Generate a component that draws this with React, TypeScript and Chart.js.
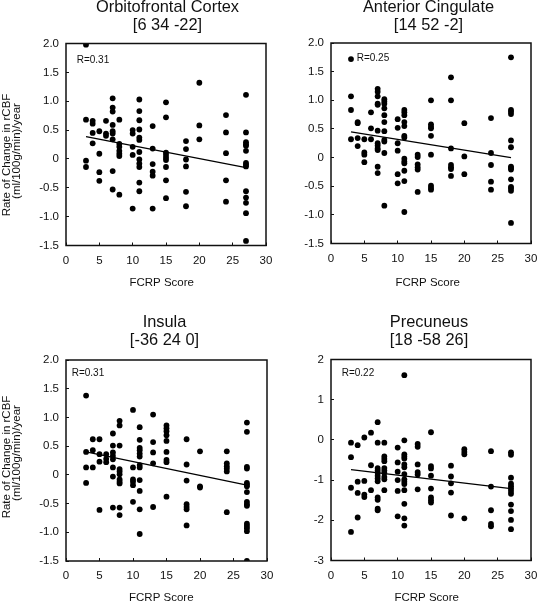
import React, { useEffect, useRef } from "react";
import { Chart, registerables } from "chart.js";

Chart.register(...registerables);

// ---------------- data ----------------
const fcrpScores = [3, 4, 5, 6, 7, 8, 10, 11, 13, 15, 18, 20, 24, 27];

const ofcValues = [
  [1.98, 0.68, -0.03, -0.14],
  [0.66, 0.61, 0.45, 0.27],
  [0.48, 0.09, -0.23, -0.38],
  [0.66, 0.44, 0.4],
  [1.05, 0.89, 0.82, 0.59, 0.48, 0.44, 0.34, -0.21, -0.53],
  [0.68, 0.26, 0.21, 0.14, 0.09, 0.05, -0.62],
  [0.5, 0.44, 0.21, 0.07, -0.86],
  [1.03, 0.83, 0.67, 0.51, 0.37, 0.33, 0.12, -0.01, -0.08, -0.14, -0.41, -0.56],
  [0.57, 0.18, -0.09, -0.22, -0.29, -0.86],
  [0.98, 0.72, 0.11, 0.07, 0.02, -0.02, -0.14, -0.37, -0.68],
  [0.31, 0.17, -0.01, -0.13, -0.57, -0.82],
  [1.32, 0.58, 0.34],
  [0.76, 0.46, 0.1, -0.37, -0.74],
  [1.11, 0.46, 0.29, 0.25, 0.23, 0.14, -0.07, -0.1, -0.13, -0.56, -0.67, -0.76, -0.94, -1.42],
];

const acValues = [
  [1.72, 1.07, 0.83, 0.32],
  [0.62, 0.6, 0.34, 0.2],
  [0.32, 0.09, 0.05, -0.08],
  [0.79, 0.51, 0.32],
  [1.2, 1.15, 1.07, 0.94, 0.92, 0.47, 0.25, 0.21, 0.16, 0.13, -0.16, -0.27],
  [1.02, 0.98, 0.94, 0.86, 0.74, 0.62, 0.46, 0.31, 0.28, 0.08, -0.84],
  [0.67, 0.52, 0.25, 0.12, -0.29, -0.45],
  [0.83, 0.79, 0.74, 0.62, 0.55, 0.38, 0.35, -0.02, -0.07, -0.1, -0.23, -0.41, -0.95],
  [0.05, 0.01, -0.12, -0.17, -0.21, -0.6],
  [1.0, 0.58, 0.54, 0.51, 0.38, 0.05, -0.49, -0.53, -0.56],
  [1.4, 1.0, 0.16, -0.13, -0.17, -0.2, -0.32],
  [0.6, 0.02, -0.29],
  [0.69, 0.08, -0.13, -0.42, -0.56],
  [1.75, 0.83, 0.8, 0.76, 0.3, 0.18, -0.16, -0.18, -0.21, -0.38, -0.51, -0.54, -0.58, -1.14],
];

const insulaValues = [
  [1.38, 0.4, 0.13, -0.14],
  [0.62, 0.43, 0.13],
  [0.62, 0.36, 0.23, -0.61],
  [0.36, 0.28, 0.22],
  [0.72, 0.51, 0.39, 0.33, 0.27, 0.13, -0.03, -0.57],
  [0.94, 0.86, 0.51, 0.1, 0.06, 0.01, -0.08, -0.12, -0.15, -0.57, -0.7],
  [1.13, 0.13, -0.08, -0.12, -0.18, -0.47],
  [0.83, 0.61, 0.47, 0.43, 0.37, 0.32, 0.17, 0.13, -0.09, -0.28, -0.6, -1.03],
  [1.05, 0.57, 0.39, 0.2, -0.56],
  [0.86, 0.81, 0.76, 0.69, 0.59, 0.4, 0.26, 0.22, -0.38],
  [0.62, 0.18, -0.1, -0.51, -0.56, -0.6, -0.88],
  [0.41, -0.2, -0.22],
  [0.41, 0.2, 0.15, 0.11, 0.06, -0.65],
  [0.91, 0.75, 0.14, 0.11, -0.14, -0.17, -0.2, -0.3, -0.47, -0.51, -0.54, -0.85, -0.89, -0.93, -0.98, -1.5],
];

const precuneusValues = [
  [-0.07, -0.43, -1.19, -2.29],
  [-0.13, -1.04, -1.32, -1.93],
  [0.06, -1.02, -1.36, -1.42],
  [0.18, -0.63, -1.25],
  [0.44, -0.07, -0.7, -0.76, -0.82, -0.89, -0.96, -1.03, -1.43, -1.49, -1.71, -1.75],
  [-0.07, -0.41, -0.47, -0.53, -0.7, -0.76, -0.82, -0.92, -0.98, -1.25],
  [-0.19, -0.56, -0.79, -1.0, -1.27, -1.9],
  [1.61, -0.01, -0.36, -0.41, -0.46, -0.61, -0.68, -0.85, -0.98, -1.04, -1.1, -1.25, -1.59, -1.95, -2.13],
  [-0.1, -0.17, -0.61, -0.8, -0.86, -1.23],
  [0.19, -0.65, -0.71, -0.89, -1.21, -1.43, -1.5, -1.56],
  [-0.64, -0.91, -1.08, -1.31, -1.88],
  [-0.23, -0.3, -0.36, -1.95],
  [-0.28, -1.16, -1.75, -2.09, -2.15],
  [-0.31, -0.37, -0.94, -1.09, -1.15, -1.21, -1.27, -1.34, -1.61, -1.77, -1.99, -2.22],
];

// regression line end points (at first and last score)
const trendScores = [3, 27];
const ofcTrend = [0.385, -0.15];
const acTrend = [0.45, 0.0];
const insulaTrend = [0.4, -0.18];
const precuneusTrend = [-0.74, -1.21];

const titles = [
  ["Orbitofrontal Cortex", "[6 34 -22]"],
  ["Anterior Cingulate", "[14 52 -2]"],
  ["Insula", "[-36 24 0]"],
  ["Precuneus", "[18 -58 26]"],
];
const rLabels = ["R=0.31", "R=0.25", "R=0.31", "R=0.22"];
const xAxisTitle = "FCRP Score";
const yAxisTitle = ["Rate of Change in rCBF", "(ml/100g/min)/year"];

// ---------------- layout ----------------
const W = 538;
const H = 601;
const FONT = '"Liberation Sans", Arial, Helvetica, sans-serif';
const INK = "#111";

type Layout = {
  area: { l: number; r: number; t: number; b: number };
  titleX: number;
  titleY: [number, number];
  xTitle: [number, number];
  rPos: [number, number];
  yTitle?: { x: [number, number]; y: [number, number] };
  yRange: [number, number, number];
};

const layouts: Layout[] = [
  {
    area: { l: 66, r: 266, t: 43.5, b: 245.5 },
    titleX: 167.5,
    titleY: [12, 30],
    xTitle: [161.7, 285.5],
    rPos: [76.7, 63],
    yTitle: { x: [9.8, 20], y: [155, 151] },
    yRange: [-1.5, 2, 0.5],
  },
  {
    area: { l: 331, r: 531, t: 43, b: 243.5 },
    titleX: 428.5,
    titleY: [12, 30],
    xTitle: [427.7, 285.5],
    rPos: [356.7, 60.7],
    yRange: [-1.5, 2, 0.5],
  },
  {
    area: { l: 66, r: 267, t: 360, b: 561 },
    titleX: 164.5,
    titleY: [327, 345],
    xTitle: [161.3, 600.5],
    rPos: [71.7, 375.7],
    yTitle: { x: [9.8, 20], y: [457, 453] },
    yRange: [-1.5, 2, 0.5],
  },
  {
    area: { l: 331, r: 531, t: 359.5, b: 560.5 },
    titleX: 429,
    titleY: [327, 345],
    xTitle: [426.7, 600.5],
    rPos: [341.7, 375.7],
    yRange: [-3, 2, 1],
  },
];

const panelValues = [ofcValues, acValues, insulaValues, precuneusValues];
const panelTrends = [ofcTrend, acTrend, insulaTrend, precuneusTrend];

const Y_AXIS_W = 40;
const X_AXIS_H = 30;

function ScatterPanel({ idx }: { idx: number }) {
  const ref = useRef<HTMLCanvasElement | null>(null);
  useEffect(() => {
    const L = layouts[idx];
    const values = panelValues[idx];
    const trend = panelTrends[idx];
    const points: { x: number; y: number }[] = [];
    fcrpScores.forEach((s, i) => values[i].forEach((v) => points.push({ x: s, y: v })));
    const trendPts = trendScores.map((s, i) => ({ x: s, y: trend[i] }));
    const step = L.yRange[2];

    const decor = {
      id: "decor",
      afterDraw(chart: any) {
        const ctx = chart.ctx as CanvasRenderingContext2D;
        const a = chart.chartArea;
        ctx.save();
        ctx.strokeStyle = INK;
        ctx.lineWidth = 1.5;
        ctx.strokeRect(a.left, a.top, a.right - a.left, a.bottom - a.top);
        ctx.fillStyle = INK;
        ctx.textBaseline = "alphabetic";
        ctx.textAlign = "center";
        ctx.font = `16.4px ${FONT}`;
        ctx.fillText(titles[idx][0], L.titleX, L.titleY[0]);
        ctx.fillText(titles[idx][1], L.titleX, L.titleY[1]);
        ctx.font = `11.5px ${FONT}`;
        ctx.fillText(xAxisTitle, L.xTitle[0], L.xTitle[1]);
        if (L.yTitle) {
          for (let k = 0; k < 2; k++) {
            ctx.save();
            ctx.translate(L.yTitle.x[k], L.yTitle.y[k]);
            ctx.rotate(-Math.PI / 2);
            ctx.fillText(yAxisTitle[k], 0, 0);
            ctx.restore();
          }
        }
        ctx.textAlign = "left";
        ctx.font = `10px ${FONT}`;
        ctx.fillText(rLabels[idx], L.rPos[0], L.rPos[1]);
        ctx.restore();
      },
    };

    const chart = new Chart(ref.current as HTMLCanvasElement, {
      type: "scatter",
      data: {
        datasets: [
          {
            type: "scatter",
            data: points,
            pointRadius: 2.9,
            pointHoverRadius: 2.9,
            backgroundColor: "#000",
            borderWidth: 0,
          } as any,
          {
            type: "line",
            data: trendPts,
            borderColor: "#000",
            borderWidth: 1.2,
            pointRadius: 0,
            fill: false,
          } as any,
        ],
      },
      options: {
        responsive: false,
        animation: false,
        devicePixelRatio: 1,
        events: [],
        layout: {
          autoPadding: false,
          padding: {
            left: L.area.l - Y_AXIS_W,
            right: W - L.area.r,
            top: L.area.t,
            bottom: H - X_AXIS_H - L.area.b,
          },
        } as any,
        plugins: {
          legend: { display: false },
          tooltip: { enabled: false },
          title: { display: false },
        },
        scales: {
          x: {
            type: "linear",
            min: 0,
            max: 30,
            border: { display: false },
            grid: { drawOnChartArea: false, drawTicks: true, tickLength: -3, color: INK, lineWidth: 1 },
            ticks: {
              stepSize: 5,
              padding: 11,
              color: INK,
              font: { family: FONT, size: 11.5 },
              maxRotation: 0,
            },
            afterFit: (s: any) => {
              s.height = X_AXIS_H;
              s.paddingLeft = 0;
              s.paddingRight = 0;
            },
          },
          y: {
            type: "linear",
            min: L.yRange[0],
            max: L.yRange[1],
            border: { display: false },
            grid: { drawOnChartArea: false, drawTicks: true, tickLength: -3, color: INK, lineWidth: 1 },
            ticks: {
              stepSize: step,
              padding: 10,
              color: INK,
              font: { family: FONT, size: 11.5 },
              callback: (v: any) => {
                const n = Number(v);
                if (Math.abs(n) < 1e-9) return "0";
                return step < 1 ? n.toFixed(1) : String(Math.round(n));
              },
            },
            afterFit: (s: any) => {
              s.width = Y_AXIS_W;
              s.paddingTop = 0;
              s.paddingBottom = 0;
            },
          },
        },
      },
      plugins: [decor],
    });
    return () => chart.destroy();
  }, [idx]);

  return (
    <canvas
      ref={ref}
      width={W}
      height={H}
      style={{ position: "absolute", left: 0, top: 0, width: W, height: H }}
    />
  );
}

export default function App() {
  return (
    <div
      style={{
        position: "absolute",
        left: 0,
        top: 0,
        width: W,
        height: H,
        background: "#fff",
        overflow: "hidden",
      }}
    >
      {[0, 1, 2, 3].map((i) => (
        <ScatterPanel key={i} idx={i} />
      ))}
    </div>
  );
}
